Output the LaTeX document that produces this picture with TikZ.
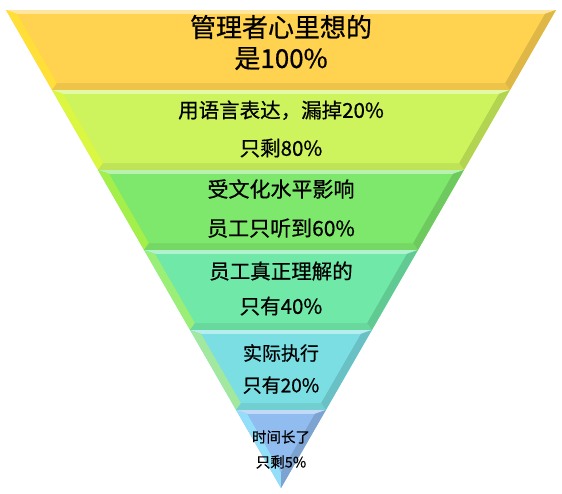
\documentclass[tikz,border=0pt]{standalone}
\usepackage{fontspec}
\setmainfont{Noto Sans CJK SC}[FakeBold=0.6]
\definecolor{cA}{RGB}{255,210,80}
\definecolor{cB}{RGB}{205,244,92}
\definecolor{cC}{RGB}{126,232,108}
\definecolor{cD}{RGB}{112,232,168}
\definecolor{cE}{RGB}{122,222,226}
\definecolor{cF}{RGB}{144,188,240}
\tikzset{lbl/.style={align=center,text=black,inner sep=0pt}}
\begin{document}
\begin{tikzpicture}[x=1pt,y=-1pt]
\useasboundingbox (0,0) rectangle (562,493);
\foreach \yt/\yb/\c in {10/90/cA,90/170/cB,170/250/cC,250/330/cD,330/410/cE}{
  \pgfmathsetmacro\xla{6+0.5753*(\yt-10)}
  \pgfmathsetmacro\xra{556-0.5753*(\yt-10)}
  \pgfmathsetmacro\xlb{6+0.5753*(\yb-10)}
  \pgfmathsetmacro\xrb{556-0.5753*(\yb-10)}
  \pgfmathsetmacro\yti{\yt+4}
  \pgfmathsetmacro\ybi{\yb-7}
  \pgfmathsetmacro\xlai{6+0.5753*(\yti-10)+9}
  \pgfmathsetmacro\xrai{556-0.5753*(\yti-10)-9}
  \pgfmathsetmacro\xlbi{6+0.5753*(\ybi-10)+9}
  \pgfmathsetmacro\xrbi{556-0.5753*(\ybi-10)-9}
  \coordinate (A) at (\xla,\yt);
  \coordinate (B) at (\xra,\yt);
  \coordinate (C) at (\xrb,\yb);
  \coordinate (D) at (\xlb,\yb);
  \coordinate (Ai) at (\xlai,\yti);
  \coordinate (Bi) at (\xrai,\yti);
  \coordinate (Ci) at (\xrbi,\ybi);
  \coordinate (Di) at (\xlbi,\ybi);
  \fill[\c] (A)--(B)--(C)--(D)--cycle;
  \fill[\c!55!white] (A)--(B)--(Bi)--(Ai)--cycle;
  \fill[\c!70!yellow] (A)--(Ai)--(Di)--(D)--cycle;
  \fill[\c!87!black] (B)--(C)--(Ci)--(Bi)--cycle;
  \fill[\c!93!black] (D)--(C)--(Ci)--(Di)--cycle;
  \fill[\c] (Ai)--(Bi)--(Ci)--(Di)--cycle;
}
% tip band
\pgfmathsetmacro\xla{6+0.5753*400}
\pgfmathsetmacro\xra{556-0.5753*400}
\pgfmathsetmacro\xlai{6+0.5753*404+9}
\pgfmathsetmacro\xrai{556-0.5753*404-9}
\coordinate (A) at (\xla,410);
\coordinate (B) at (\xra,410);
\coordinate (C) at (281,488);
\coordinate (Ai) at (\xlai,414);
\coordinate (Bi) at (\xrai,414);
\coordinate (Ci) at (281,472);
\fill[cF] (A)--(B)--(C)--cycle;
\fill[cF!55!white] (A)--(B)--(Bi)--(Ai)--cycle;
\fill[cF!70!cyan!70!white] (A)--(Ai)--(Ci)--(C)--cycle;
\fill[cF!87!black] (B)--(C)--(Ci)--(Bi)--cycle;
\fill[cF] (Ai)--(Bi)--(Ci)--cycle;
% labels
\node[lbl,font=\fontsize{26}{31}\selectfont] (t1) at (281,42.5) {管理者心里想的\\是100\%};
\node[lbl,font=\fontsize{20.5}{38}\selectfont] (t2) at (281,129) {用语言表达，漏掉20\%\\只剩80\%};
\node[lbl,font=\fontsize{21}{39}\selectfont] (t3) at (281,208.5) {受文化水平影响\\员工只听到60\%};
\node[lbl,font=\fontsize{20.5}{35}\selectfont] (t4) at (281,288.5) {员工真正理解的\\只有40\%};
\node[lbl,font=\fontsize{19}{32}\selectfont] (t5) at (281,369) {实际执行\\只有20\%};
\node[lbl,font=\fontsize{14.5}{25}\selectfont] (t6) at (281,449.5) {时间长了\\只剩5\%};
\end{tikzpicture}
\end{document}
